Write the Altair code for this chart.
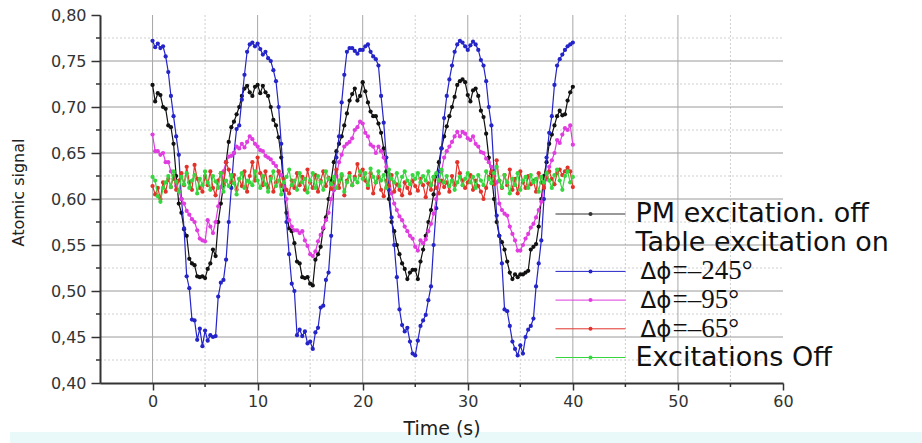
import altair as alt
import pandas as pd

STEP = 0.25  # sampling interval of the recordings (s)

black_pm_off = [
    0.724, 0.706, 0.715, 0.713, 0.700, 0.698, 0.680, 0.678, 0.660, 0.625,
    0.595, 0.585, 0.567, 0.560, 0.535, 0.530, 0.528, 0.516, 0.515, 0.516,
    0.514, 0.524, 0.530, 0.545, 0.538, 0.575, 0.595, 0.615, 0.640, 0.662,
    0.678, 0.684, 0.692, 0.700, 0.712, 0.720, 0.723, 0.716, 0.712, 0.722,
    0.724, 0.715, 0.723, 0.716, 0.712, 0.700, 0.686, 0.680, 0.667, 0.645,
    0.610, 0.585, 0.568, 0.565, 0.552, 0.532, 0.530, 0.515, 0.514, 0.515,
    0.508, 0.506, 0.534, 0.540, 0.548, 0.568, 0.580, 0.600, 0.620, 0.640,
    0.652, 0.660, 0.668, 0.680, 0.693, 0.707, 0.714, 0.720, 0.707, 0.712,
    0.727, 0.717, 0.705, 0.695, 0.690, 0.690, 0.682, 0.672, 0.655, 0.630,
    0.600, 0.575, 0.565, 0.550, 0.540, 0.530, 0.524, 0.513, 0.520, 0.523,
    0.523, 0.513, 0.532, 0.545, 0.560, 0.575, 0.588, 0.605, 0.625, 0.640,
    0.655, 0.668, 0.679, 0.690, 0.700, 0.711, 0.724, 0.728, 0.730, 0.727,
    0.713, 0.706, 0.718, 0.720, 0.712, 0.696, 0.689, 0.671, 0.645, 0.628,
    0.600, 0.575, 0.560, 0.553, 0.545, 0.532, 0.520, 0.513, 0.518, 0.515,
    0.518, 0.518, 0.520, 0.522, 0.545, 0.548, 0.551, 0.570, 0.600, 0.625,
    0.640, 0.660, 0.670, 0.680, 0.690, 0.696, 0.691, 0.692, 0.707, 0.716,
    0.722,
]

blue_245 = [
    0.772, 0.765, 0.769, 0.764, 0.766, 0.755, 0.738, 0.712, 0.690, 0.668,
    0.648, 0.600, 0.568, 0.516, 0.503, 0.469, 0.468, 0.447, 0.459, 0.440,
    0.457, 0.446, 0.452, 0.450, 0.451, 0.494, 0.509, 0.512, 0.534, 0.575,
    0.612, 0.650, 0.676, 0.680, 0.708, 0.735, 0.760, 0.768, 0.770, 0.766,
    0.769, 0.763, 0.757, 0.760, 0.753, 0.750, 0.740, 0.728, 0.700, 0.660,
    0.615, 0.575, 0.540, 0.508, 0.500, 0.452, 0.458, 0.451, 0.456, 0.443,
    0.445, 0.437, 0.455, 0.460, 0.482, 0.484, 0.512, 0.520, 0.560, 0.610,
    0.645, 0.668, 0.705, 0.735, 0.760, 0.764, 0.764, 0.761, 0.758, 0.762,
    0.762, 0.766, 0.768, 0.760, 0.755, 0.752, 0.745, 0.712, 0.683, 0.645,
    0.610, 0.580, 0.550, 0.515, 0.480, 0.463, 0.456, 0.460, 0.445, 0.432,
    0.430, 0.446, 0.462, 0.468, 0.474, 0.490, 0.505, 0.550, 0.590, 0.630,
    0.655, 0.688, 0.712, 0.730, 0.745, 0.760, 0.768, 0.772, 0.770, 0.766,
    0.762, 0.767, 0.771, 0.768, 0.762, 0.751, 0.745, 0.728, 0.700, 0.680,
    0.630, 0.582, 0.560, 0.530, 0.480, 0.478, 0.462, 0.445, 0.437, 0.430,
    0.441, 0.432, 0.450, 0.458, 0.462, 0.470, 0.505, 0.530, 0.555, 0.600,
    0.645, 0.672, 0.690, 0.724, 0.745, 0.752, 0.757, 0.762, 0.766, 0.768,
    0.770,
]

magenta_95 = [
    0.670, 0.652, 0.652, 0.648, 0.650, 0.640, 0.640, 0.630, 0.622, 0.614,
    0.609, 0.600, 0.595, 0.587, 0.583, 0.578, 0.575, 0.566, 0.557, 0.555,
    0.554, 0.577, 0.570, 0.563, 0.575, 0.592, 0.613, 0.630, 0.640, 0.646,
    0.647, 0.650, 0.657, 0.655, 0.660, 0.656, 0.662, 0.668, 0.665, 0.660,
    0.657, 0.653, 0.652, 0.647, 0.645, 0.643, 0.639, 0.636, 0.630, 0.626,
    0.613, 0.600, 0.577, 0.570, 0.566, 0.566, 0.563, 0.565, 0.555, 0.549,
    0.540, 0.538, 0.543, 0.554, 0.561, 0.569, 0.577, 0.585, 0.600, 0.610,
    0.625, 0.640, 0.648, 0.657, 0.660, 0.662, 0.666, 0.675, 0.678, 0.684,
    0.682, 0.672, 0.668, 0.659, 0.657, 0.650, 0.657, 0.652, 0.645, 0.635,
    0.627, 0.606, 0.595, 0.588, 0.581, 0.577, 0.570, 0.565, 0.560, 0.557,
    0.548, 0.544, 0.555, 0.552, 0.556, 0.565, 0.573, 0.584, 0.600, 0.618,
    0.630, 0.645, 0.652, 0.657, 0.662, 0.668, 0.673, 0.668, 0.673, 0.671,
    0.666, 0.664, 0.668, 0.660, 0.657, 0.651, 0.650, 0.644, 0.640, 0.635,
    0.625, 0.618, 0.595, 0.588, 0.584, 0.582, 0.570, 0.562, 0.555, 0.544,
    0.544, 0.550, 0.557, 0.562, 0.569, 0.573, 0.580, 0.588, 0.597, 0.613,
    0.622, 0.635, 0.642, 0.650, 0.664, 0.661, 0.670, 0.677, 0.675, 0.680,
    0.659,
]

red_65 = [
    0.614, 0.605, 0.612, 0.600, 0.618, 0.608, 0.622, 0.613, 0.625, 0.610,
    0.620, 0.628, 0.615, 0.635, 0.618, 0.610, 0.637, 0.622, 0.612, 0.608,
    0.625, 0.615, 0.630, 0.612, 0.604, 0.620, 0.628, 0.616, 0.640, 0.632,
    0.618, 0.626, 0.610, 0.622, 0.614, 0.630, 0.608, 0.625, 0.640, 0.620,
    0.645, 0.628, 0.615, 0.630, 0.612, 0.624, 0.608, 0.618, 0.630, 0.614,
    0.622, 0.610, 0.606, 0.620, 0.612, 0.628, 0.615, 0.624, 0.610, 0.632,
    0.618, 0.612, 0.626, 0.608, 0.620, 0.630, 0.614, 0.623, 0.611, 0.618,
    0.632, 0.612, 0.625, 0.604, 0.620, 0.628, 0.615, 0.624, 0.638, 0.626,
    0.632, 0.620, 0.612, 0.628, 0.606, 0.618, 0.624, 0.610, 0.603, 0.620,
    0.614, 0.626, 0.608, 0.616, 0.610, 0.604, 0.618, 0.612, 0.606, 0.620,
    0.614, 0.609, 0.622, 0.615, 0.602, 0.617, 0.610, 0.624, 0.612, 0.606,
    0.620, 0.613, 0.618, 0.608, 0.625, 0.615, 0.640, 0.628, 0.620, 0.612,
    0.618, 0.626, 0.610, 0.620, 0.614, 0.608, 0.600, 0.612, 0.624, 0.630,
    0.616, 0.642, 0.620, 0.612, 0.626, 0.615, 0.632, 0.610, 0.622, 0.606,
    0.630, 0.618, 0.612, 0.625, 0.616, 0.620, 0.608, 0.628, 0.618, 0.612,
    0.624, 0.630, 0.622, 0.616, 0.628, 0.632, 0.626, 0.630, 0.634, 0.630,
    0.613,
]

green_off = [
    0.624, 0.620, 0.603, 0.597, 0.612, 0.618, 0.625, 0.613, 0.630, 0.619,
    0.608, 0.624, 0.616, 0.628, 0.612, 0.620, 0.626, 0.606, 0.622, 0.615,
    0.630, 0.618, 0.610, 0.625, 0.619, 0.612, 0.628, 0.608, 0.620, 0.614,
    0.626, 0.617, 0.605, 0.622, 0.628, 0.612, 0.620, 0.618, 0.615, 0.630,
    0.620, 0.612, 0.625, 0.616, 0.608, 0.622, 0.630, 0.614, 0.620, 0.605,
    0.618, 0.624, 0.632, 0.615, 0.620, 0.610, 0.628, 0.618, 0.622, 0.607,
    0.620, 0.628, 0.612, 0.625, 0.618, 0.610, 0.630, 0.622, 0.616, 0.624,
    0.612, 0.620, 0.627, 0.608, 0.618, 0.625, 0.615, 0.622, 0.618, 0.630,
    0.622, 0.628, 0.615, 0.633, 0.624, 0.618, 0.630, 0.620, 0.626, 0.612,
    0.632, 0.622, 0.618, 0.628, 0.614, 0.624, 0.630, 0.620, 0.616, 0.626,
    0.622, 0.628, 0.618, 0.625, 0.620, 0.630, 0.615, 0.624, 0.628, 0.620,
    0.632, 0.618, 0.625, 0.614, 0.620, 0.610, 0.618, 0.624, 0.615, 0.622,
    0.628, 0.618, 0.624, 0.612, 0.626, 0.620, 0.615, 0.630, 0.622, 0.617,
    0.628, 0.635, 0.620, 0.613, 0.626, 0.618, 0.606, 0.622, 0.615, 0.628,
    0.610, 0.620, 0.624, 0.612, 0.626, 0.618, 0.622, 0.608, 0.624, 0.618,
    0.628, 0.620, 0.612, 0.626, 0.632, 0.620, 0.610, 0.625, 0.630, 0.618,
    0.624,
]

series_values = [black_pm_off, blue_245, magenta_95, red_65, green_off]
series_colors = ["#111111", "#2424c8", "#e03ce0", "#e2332b", "#36d63f"]

# legend rows: Greek prefix (drawn separately) + main text
legend_greek = ["", "", "Δϕ", "Δϕ", "Δϕ", ""]
legend_text = ["PM excitation. off", "Table excitation on", "=–245°",
               "=–95°", "=–65°", "Excitations Off"]
legend_colors = ["#333333", None, "#2424c8", "#e03ce0", "#e2332b", "#36d63f"]

x_tick_values = [0, 10, 20, 30, 40, 50, 60]
x_minor_values = [5, 15, 25, 35, 45, 55]
x_grid_values = [0, 10, 20, 30, 40, 50]
y_tick_values = [0.40, 0.45, 0.50, 0.55, 0.60, 0.65, 0.70, 0.75, 0.80]
y_grid_values = [0.45, 0.50, 0.55, 0.60, 0.65, 0.70, 0.75]
y_minor_values = [0.425, 0.475, 0.525, 0.575, 0.625, 0.675, 0.725, 0.775]

W, H = 683, 368
SANS = "DejaVu Sans"
SERIF = "Liberation Serif"

xs = alt.Scale(domain=[-5, 60], nice=False, zero=False)
ys = alt.Scale(domain=[0.40, 0.80], nice=False, zero=False)

x_axis = alt.Axis(
    values=x_tick_values, title="Time (s)", grid=False, format="d", zindex=1,
    tickSize=7, tickWidth=1.5, tickColor="#333", domainColor="#333", domainWidth=2,
    labelFont=SANS, labelFontSize=16, labelColor="#333", labelPadding=3,
    labelFlush=False, labelOverlap=False,
    titleFont=SANS, titleFontSize=19, titleFontWeight="normal", titleColor="#222",
    titlePadding=10,
)
y_axis = alt.Axis(
    values=y_tick_values, title="Atomic signal", grid=False, zindex=1,
    labelExpr="replace(format(datum.value, '.2f'), '.', ',')",
    tickSize=9, tickWidth=1.5, tickColor="#333", domainColor="#333", domainWidth=2,
    labelFont=SANS, labelFontSize=16, labelColor="#333", labelPadding=5,
    labelFlush=False, labelOverlap=False,
    titleFont=SANS, titleFontSize=16, titleFontWeight="normal", titleColor="#222",
    titleX=-82, titleY=H / 2 - 7, titleBaseline="middle",
)


def X(field):
    return alt.X(f"{field}:Q", scale=xs, axis=x_axis)


def Y(field):
    return alt.Y(f"{field}:Q", scale=ys, axis=y_axis)


layers = []

# light band along the bottom of the picture
layers.append(
    alt.Chart(pd.DataFrame({"a": [0]})).mark_rect(color="#e9f9fa").encode(
        x=alt.value(-90), x2=alt.value(W + 139), y=alt.value(H + 49), y2=alt.value(H + 60)
    )
)

# grids
layers.append(
    alt.Chart(pd.DataFrame({"v": y_minor_values})).mark_rule(
        color="#cfcfcf", strokeWidth=1, strokeDash=[2, 2]
    ).encode(y=Y("v"), x=alt.value(0), x2=alt.value(W))
)
layers.append(
    alt.Chart(pd.DataFrame({"v": x_minor_values})).mark_rule(
        color="#cfcfcf", strokeWidth=1, strokeDash=[2, 2]
    ).encode(x=X("v"), y=alt.value(0), y2=alt.value(H))
)
layers.append(
    alt.Chart(pd.DataFrame({"v": y_grid_values})).mark_rule(
        color="#9a9a9a", strokeWidth=1
    ).encode(y=Y("v"), x=alt.value(0), x2=alt.value(W))
)
layers.append(
    alt.Chart(pd.DataFrame({"v": x_grid_values})).mark_rule(
        color="#a8a8a8", strokeWidth=1
    ).encode(x=X("v"), y=alt.value(0), y2=alt.value(H))
)

# data series
for vals, col in zip(series_values, series_colors):
    df = pd.DataFrame({"t": [i * STEP for i in range(len(vals))], "v": vals})
    layers.append(
        alt.Chart(df).mark_line(
            color=col, strokeWidth=1.2,
            point=alt.OverlayMarkDef(filled=True, size=18, color=col),
        ).encode(x=X("t"), y=Y("v"))
    )

# minor ticks
layers.append(
    alt.Chart(pd.DataFrame({"v": y_minor_values})).mark_rule(
        color="#333", strokeWidth=1.5
    ).encode(y=Y("v"), x=alt.value(-4), x2=alt.value(0))
)
layers.append(
    alt.Chart(pd.DataFrame({"v": x_minor_values})).mark_rule(
        color="#333", strokeWidth=1.5
    ).encode(x=X("v"), y=alt.value(H), y2=alt.value(H + 4))
)

# legend (inside plot, no frame)
LEG_LINE_X0, LEG_LINE_X1, LEG_DOT_X, LEG_TEXT_X = 455.5, 525.5, 490.5, 535.5
LEG_SPLIT_X = 571.5  # where the Greek prefix ends and the serif text starts
LEG_Y0, LEG_DY = 199, 28.7
for i, (greek, lab, col) in enumerate(zip(legend_greek, legend_text, legend_colors)):
    py = LEG_Y0 + i * LEG_DY
    one = pd.DataFrame({"label": [lab], "greek": [greek]})
    if col is not None:
        layers.append(
            alt.Chart(one).mark_rule(color=col, strokeWidth=1).encode(
                x=alt.value(LEG_LINE_X0), x2=alt.value(LEG_LINE_X1), y=alt.value(py)
            )
        )
        layers.append(
            alt.Chart(one).mark_point(filled=True, size=16, color=col, opacity=1).encode(
                x=alt.value(LEG_DOT_X), y=alt.value(py)
            )
        )
    if greek:
        layers.append(
            alt.Chart(one).mark_text(
                align="right", baseline="middle", font=SANS, fontSize=23, color="#111",
            ).encode(x=alt.value(LEG_SPLIT_X), y=alt.value(py + 1), text="greek:N")
        )
        layers.append(
            alt.Chart(one).mark_text(
                align="left", baseline="middle", font=SERIF, fontSize=27, color="#111",
            ).encode(x=alt.value(LEG_SPLIT_X + 1), y=alt.value(py), text="label:N")
        )
    else:
        layers.append(
            alt.Chart(one).mark_text(
                align="left", baseline="middle", font=SANS, fontSize=27, color="#111",
            ).encode(x=alt.value(LEG_TEXT_X), y=alt.value(py), text="label:N")
        )

chart = alt.layer(*layers).properties(
    width=W, height=H,
    autosize=alt.AutoSizeParams(type="none"),
    padding={"left": 100, "top": 15, "right": 139, "bottom": 60},
    background="white",
).configure_view(stroke=None)

chart.save("out.html", embed_options={"renderer": "svg", "actions": False})
